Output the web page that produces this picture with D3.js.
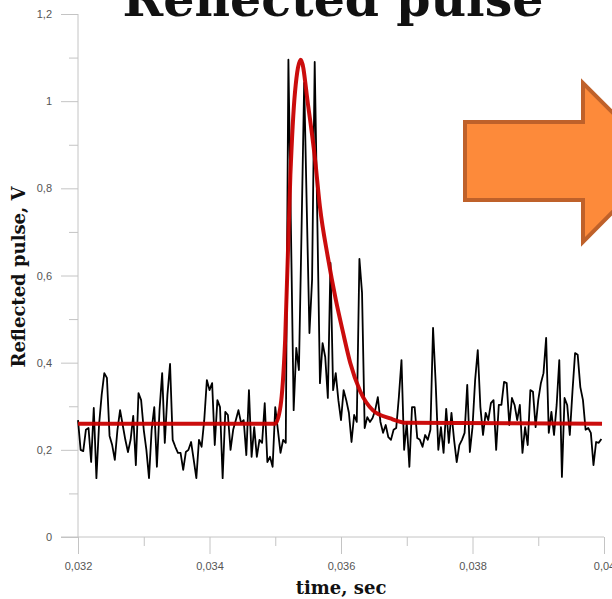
<!DOCTYPE html>
<html><head><meta charset="utf-8">
<script src="https://cdn.jsdelivr.net/npm/d3@7"></script>
<style>body{margin:0;background:#fff}svg{display:block}</style>
</head><body>
<script>
// ---- data ----
const t0 = 0.032, dt = 0.00004;
const signal = [
 0.268,0.200,0.197,0.246,0.250,0.172,0.296,0.135,0.257,0.326,
 0.376,0.365,0.232,0.211,0.177,0.246,0.291,0.257,0.223,0.195,
 0.223,0.278,0.165,0.330,0.314,0.246,0.200,0.135,0.246,0.298,
 0.161,0.291,0.376,0.216,0.326,0.397,0.223,0.207,0.193,0.193,
 0.154,0.195,0.200,0.218,0.177,0.135,0.223,0.207,0.268,0.360,
 0.337,0.353,0.211,0.314,0.298,0.135,0.287,0.280,0.200,0.246,
 0.268,0.291,0.262,0.268,0.188,0.337,0.184,0.252,0.184,0.223,
 0.216,0.307,0.172,0.184,0.161,0.298,0.246,0.193,0.223,0.216,
 1.095,0.693,0.291,0.434,0.383,0.704,1.042,0.750,0.468,0.590,
 1.090,0.727,0.353,0.445,0.413,0.319,0.629,0.337,0.376,0.314,
 0.268,0.337,0.314,0.285,0.218,0.280,0.264,0.638,0.560,0.250,
 0.275,0.264,0.273,0.291,0.321,0.264,0.239,0.257,0.229,0.223,
 0.246,0.250,0.321,0.406,0.200,0.262,0.161,0.298,0.298,0.227,
 0.223,0.207,0.234,0.223,0.246,0.480,0.353,0.200,0.252,0.193,
 0.294,0.216,0.285,0.223,0.172,0.211,0.223,0.239,0.349,0.195,
 0.252,0.360,0.429,0.298,0.234,0.285,0.268,0.307,0.314,0.200,
 0.303,0.303,0.356,0.353,0.257,0.319,0.303,0.268,0.303,0.193,
 0.252,0.211,0.337,0.333,0.252,0.314,0.353,0.376,0.457,0.239,
 0.287,0.234,0.303,0.406,0.138,0.319,0.303,0.234,0.333,0.422,
 0.418,0.344,0.314,0.246,0.250,0.239,0.165,0.218,0.216,0.225
];
const fitT = [0.0320,0.0350,0.03508,0.03515,0.03523,0.03530,0.03539,0.03550,0.03561,0.03568,0.03580,0.03592,0.03603,0.03614,0.03629,0.03649,0.03675,0.03700,0.03997];
const fitV = [0.26,0.26,0.30,0.45,0.83,1.02,1.095,0.99,0.86,0.757,0.642,0.545,0.47,0.40,0.335,0.29,0.272,0.262,0.26];
const xTicks = [0.032,0.034,0.036,0.038,0.040];
const xTickLabels = ["0,032","0,034","0,036","0,038","0,04"];
const yTicks = [0,0.2,0.4,0.6,0.8,1.0,1.2];
const yTickLabels = ["0","0,2","0,4","0,6","0,8","1","1,2"];
const titleText = "Reflected pulse";
const xTitle = "time, sec";
const yTitle = "Reflected pulse, V";

// ---- drawing ----
const W = 612, H = 599;
const svg = d3.select("body").append("svg").attr("width", W).attr("height", H);
const x = d3.scaleLinear().domain([0.032, 0.040]).range([78, 604]);
const y = d3.scaleLinear().domain([0, 1.2]).range([537, 14]);
const axisColor = "#c4c4c4", labelColor = "#555";
const serif = "'DejaVu Serif', 'Liberation Serif', serif";
const sans = "'Liberation Sans', Arial, sans-serif";

// title (cut off at top, as in the reference)
svg.append("text").attr("x", 333).attr("y", 16).attr("text-anchor", "middle")
  .attr("font-family", serif).attr("font-weight", "bold").attr("font-size", 49)
  .attr("fill", "#111").text(titleText);

// y axis
const yMinor = [0.1,0.3,0.5,0.7,0.9,1.1];
const yAxis = svg.append("g").attr("transform", `translate(${x(0.032)},0)`)
  .call(d3.axisLeft(y).tickValues(yTicks).tickSize(17).tickPadding(9)
        .tickFormat((d, i) => yTickLabels[i]));
yAxis.select(".domain").attr("stroke", axisColor).attr("d", `M0,${y(1.2)}V${y(0)}`);
yAxis.selectAll(".tick line").attr("stroke", axisColor);
yAxis.selectAll(".tick text").attr("fill", labelColor).attr("font-family", sans).attr("font-size", 11);
svg.append("g").attr("transform", `translate(${x(0.032)},0)`)
  .call(d3.axisLeft(y).tickValues(yMinor).tickSize(9).tickFormat(""))
  .call(g => { g.select(".domain").remove(); g.selectAll("line").attr("stroke", axisColor); });

// x axis
const xMinor = [0.033,0.035,0.037,0.039];
const xAxis = svg.append("g").attr("transform", `translate(0,${y(0)})`)
  .call(d3.axisBottom(x).tickValues(xTicks).tickSize(17).tickPadding(8)
        .tickFormat((d, i) => xTickLabels[i]));
xAxis.select(".domain").attr("stroke", axisColor).attr("d", `M${x(0.032)-17},0H${x(0.040)}`);
xAxis.selectAll(".tick line").attr("stroke", axisColor);
xAxis.selectAll(".tick text").attr("fill", labelColor).attr("font-family", sans).attr("font-size", 11);
svg.append("g").attr("transform", `translate(0,${y(0)})`)
  .call(d3.axisBottom(x).tickValues(xMinor).tickSize(9).tickFormat(""))
  .call(g => { g.select(".domain").remove(); g.selectAll("line").attr("stroke", axisColor); });

// axis titles
svg.append("text").attr("x", 341).attr("y", 594).attr("text-anchor", "middle")
  .attr("font-family", serif).attr("font-weight", "bold").attr("font-size", 18)
  .attr("fill", "#111").text(xTitle);
svg.append("text").attr("transform", "translate(25,277) rotate(-90)").attr("text-anchor", "middle")
  .attr("font-family", serif).attr("font-weight", "bold").attr("font-size", 18)
  .attr("fill", "#111").text(yTitle);

// signal line
const sigData = signal.map((v, i) => [t0 + i * dt, v]);
svg.append("path").datum(sigData)
  .attr("fill", "none").attr("stroke", "#000").attr("stroke-width", 1.8).attr("stroke-linejoin", "round")
  .attr("d", d3.line().x(d => x(d[0])).y(d => y(d[1])));

// fit line
const fitData = fitT.map((t, i) => [t, fitV[i]]);
svg.append("path").datum(fitData)
  .attr("fill", "none").attr("stroke", "#c80000").attr("stroke-width", 4).attr("stroke-opacity", 0.95)
  .attr("d", d3.line().curve(d3.curveMonotoneX).x(d => x(d[0])).y(d => y(d[1])));

// orange arrow (decoration)
svg.append("path")
  .attr("d", "M465,122H583V83L662,162L583,242V200H465Z")
  .attr("fill", "#fd8a3a").attr("stroke", "#bf612a").attr("stroke-width", 4);
</script>
</body></html>
